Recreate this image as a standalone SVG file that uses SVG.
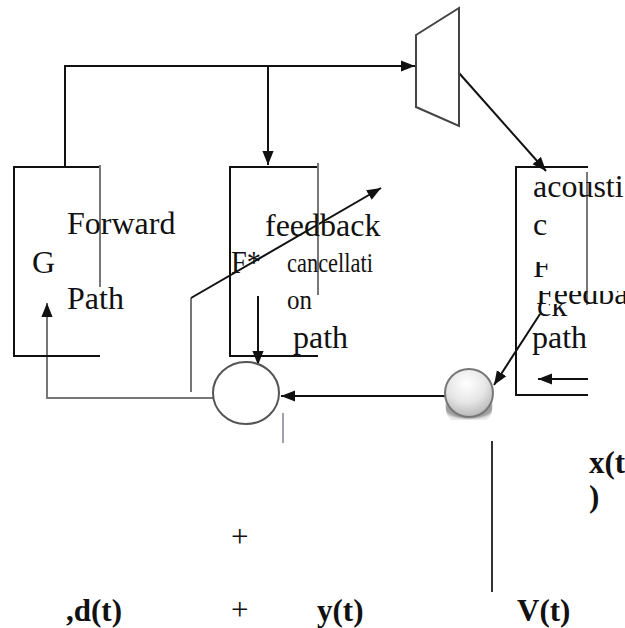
<svg xmlns="http://www.w3.org/2000/svg" width="625" height="628" viewBox="0 0 625 628">
<style>
.k{stroke:#111;stroke-width:2;fill:none}
.g{stroke:#777;stroke-width:2;fill:none}
.t{font-family:"Liberation Serif",serif;font-size:32px;fill:#111}
.s{font-family:"Liberation Serif",serif;font-size:27px;fill:#111}
.p{font-family:"Liberation Serif",serif;font-size:31px;fill:#111}
.b{font-family:"Liberation Serif",serif;font-size:31px;font-weight:bold;fill:#111}
</style>
<defs>
<marker id="am" viewBox="0 0 10 10" refX="10" refY="5" markerWidth="14" markerHeight="14" markerUnits="userSpaceOnUse" orient="auto">
<path d="M0,1 L10,5 L0,9 Z" fill="#111"/>
</marker>
<radialGradient id="gr" cx="0.45" cy="0.3" r="0.8">
<stop offset="0" stop-color="#ffffff"/>
<stop offset="0.5" stop-color="#e6e6e6"/>
<stop offset="1" stop-color="#a8a8a8"/>
</radialGradient>
<radialGradient id="sh" cx="0.5" cy="0.4" r="0.6">
<stop offset="0" stop-color="#8a8a8a"/>
<stop offset="0.8" stop-color="#a0a0a0"/>
<stop offset="1" stop-color="#c8c8c8" stop-opacity="0.4"/>
</radialGradient>
<clipPath id="c1"><rect x="520" y="262" width="105" height="16"/></clipPath>
<clipPath id="c2"><rect x="520" y="291" width="105" height="13"/></clipPath>
<clipPath id="c3"><rect x="520" y="304" width="105" height="14"/></clipPath>
</defs>

<g id="connectors">
<polyline class="k" points="65,168 65,66 415,66" marker-end="url(#am)"/>
<line class="k" x1="268" y1="66" x2="268" y2="165" marker-end="url(#am)"/>
<line class="k" x1="459" y1="73" x2="546" y2="171" marker-end="url(#am)"/>
<polyline class="g" points="213,398 47,398 47,303" marker-end="url(#am)"/>
<line class="g" x1="191" y1="392" x2="191" y2="298"/>
<line class="k" x1="191" y1="298" x2="381" y2="188" marker-end="url(#am)"/>
<line class="k" x1="258" y1="296" x2="258" y2="365" marker-end="url(#am)"/>
<line class="k" x1="540" y1="314" x2="494" y2="385" marker-end="url(#am)"/>
<line class="k" x1="588" y1="379" x2="538" y2="379" marker-end="url(#am)"/>
<line class="k" x1="445" y1="396" x2="281" y2="396" marker-end="url(#am)"/>
<line stroke="#8a7a96" stroke-width="1.5" x1="283" y1="413" x2="283" y2="443"/>
<line stroke="#333" stroke-width="2" x1="492" y1="441" x2="492" y2="592"/>
</g>

<g id="amplifier">
<polygon points="416,35 459,8 459,126 416,107" fill="#fff" stroke="#444" stroke-width="2"/>
</g>

<g id="forward">
<polyline class="k" points="100,167 14,167 14,356 100,356"/>
<line class="g" x1="100" y1="165" x2="100" y2="287"/>
<text class="t" x="67" y="234">Forward</text>
<text class="t" x="32" y="273">G</text>
<text class="t" x="67" y="309">Path</text>
</g>

<g id="cancel">
<polyline class="k" points="318,167 230,167 230,356 318,356"/>
<line class="g" x1="318" y1="163" x2="318" y2="295"/>
<text class="t" x="265" y="236">feedback</text>
<text class="t" x="231" y="273" textLength="30" lengthAdjust="spacingAndGlyphs">F*</text>
<text class="s" x="287" y="272" textLength="86" lengthAdjust="spacingAndGlyphs">cancellati</text>
<text class="s" x="287" y="309" textLength="25" lengthAdjust="spacingAndGlyphs">on</text>
<text class="t" x="293" y="348">path</text>
</g>

<g id="acoustic">
<polyline class="k" points="588,167 516,167 516,395 588,395"/>
<line class="g" x1="587" y1="172" x2="587" y2="305"/>
<text class="t" x="533" y="197">acousti</text>
<text class="t" x="533" y="235">c</text>
<text class="t" x="533" y="277" clip-path="url(#c1)">F</text>
<text class="t" x="536" y="304" clip-path="url(#c2)">Feedba</text>
<text class="t" x="537" y="316" clip-path="url(#c3)">ck</text>
<text class="t" x="532" y="348">path</text>
</g>

<g id="sum">
<ellipse cx="246" cy="393" rx="33" ry="31" fill="#fff" stroke="#555" stroke-width="2"/>
</g>

<g id="mic">
<path d="M446,400 Q444,416 452,420 L486,420 Q494,416 492,400 Z" fill="url(#sh)"/>
<circle cx="469" cy="393" r="24" fill="url(#gr)" stroke="#777" stroke-width="2"/>
</g>

<g id="labels">
<text class="b" x="589" y="473">x(t</text>
<text class="b" x="589" y="507">)</text>
<text class="p" x="231" y="547">+</text>
<text class="b" x="66" y="621">,d(t)</text>
<text class="p" x="231" y="620">+</text>
<text class="b" x="317" y="621">y(t)</text>
<text class="b" x="517" y="621">V(t)</text>
</g>
</svg>
